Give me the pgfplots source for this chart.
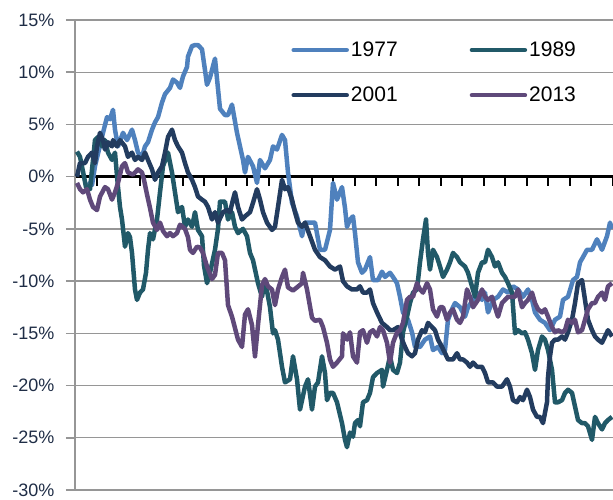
\documentclass[border=0pt]{standalone}
\usepackage{pgfplots}
\pgfplotsset{compat=1.18}
\usepackage{fontspec}
\setmainfont{Liberation Sans}
\definecolor{c77}{RGB}{79,129,189}
\definecolor{c89}{RGB}{33,89,104}
\definecolor{c01}{RGB}{35,60,95}
\definecolor{c13}{RGB}{95,73,122}
\definecolor{gridc}{RGB}{150,150,150}
\definecolor{tickc}{RGB}{31,45,70}
\begin{document}
\begin{tikzpicture}
\useasboundingbox (-75pt,-9pt) rectangle (538pt,490pt);
\begin{axis}[
  at={(0pt,0pt)}, anchor=south west,
  scale only axis, width=538pt, height=470pt,
  xmin=0, xmax=538, ymin=-30, ymax=15,
  axis x line=middle, axis y line=left,
  x axis line style={-, black, line width=2.6pt},
  y axis line style={-, gridc, line width=1.8pt},
  xtick={0,21.52,...,538}, xticklabels={},
  xtick align=outside,
  xtick style={black, line width=2pt},
  major tick length=9pt,
  ytick={-30,-25,...,15},
  ytick style={gridc, line width=1.5pt},
  ytick align=outside,
  ymajorgrids, grid style={gridc, line width=1.4pt},
  yticklabel={\pgfmathprintnumber{\tick}\%},
  /pgf/number format/assume math mode=true,
  yticklabel style={font=\fontsize{18}{18}\selectfont, text=tickc, anchor=east, xshift=-8pt},
  legend columns=2,
  legend style={draw=none, fill=none, at={(rel axis cs:0.402,0.958)}, anchor=north west,
    font=\fontsize{21}{21}\selectfont, row sep=25pt, inner sep=0pt,
    /tikz/every even column/.append style={column sep=70pt}},
  legend cell align=left,
  legend image code/.code={\draw[#1, line width=4.5pt, line cap=round] (0pt,0pt) -- (53pt,0pt);},
  every axis plot/.append style={line width=4.5pt, line join=round},
  clip=true,
]
\addplot[c77] table {
13 -0.5
17 -0.8
20 1.0
28 4.2
32 5.7
35 5.5
38 6.4
40 4.5
43 2.9
48 4.2
52 3.5
57 4.5
60 3.5
63 2.3
67 1.9
70 2.9
73 3.3
77 4.5
80 5.2
83 5.7
87 7.1
90 7.9
95 8.5
98 9.3
102 9.0
105 8.5
108 9.6
112 10.5
113 11.5
117 12.5
120 12.6
123 12.6
127 12.2
130 10.2
132 8.8
135 9.5
140 11.3
145 6.5
150 5.9
153 5.9
157 6.9
162 4.2
165 2.9
168 1.6
170 0.4
173 1.9
178 1.0
182 -0.6
185 1.6
190 0.8
195 1.6
198 2.9
202 2.6
207 4.0
210 3.5
213 0.4
217 -2.5
222 -3.8
227 -5.7
230 -4.4
240 -4.4
245 -7.0
250 -7.0
255 -5.1
258 -0.6
262 -2.2
267 -1.0
270 -3.0
272 -4.8
275 -4.1
278 -3.8
280 -5.4
283 -8.2
287 -9.2
290 -8.9
295 -7.7
298 -9.9
303 -9.9
307 -9.1
310 -9.6
315 -9.2
318 -9.6
322 -10.2
325 -11.5
328 -13.0
333 -13.7
337 -14.9
340 -16.3
345 -16.3
350 -15.6
355 -15.3
358 -16.6
363 -16.3
367 -16.9
370 -16.6
373 -13.7
377 -12.7
380 -12.1
385 -12.5
390 -13.4
393 -12.5
398 -11.8
402 -11.1
407 -11.8
410 -11.1
413 -13.0
418 -11.8
423 -11.5
428 -10.8
433 -11.1
438 -10.5
443 -10.8
448 -11.5
453 -10.8
457 -11.8
460 -13.0
465 -13.7
470 -14.0
475 -14.7
480 -13.7
485 -13.4
488 -11.8
493 -11.5
498 -9.9
502 -9.6
505 -8.2
508 -7.7
512 -7.0
517 -7.0
522 -6.0
527 -7.0
532 -5.7
535 -4.4
537 -5.0
};
\addlegendentry{1977}
\addplot[c89] table {
2 2.4
5 1.9
8 0.5
11 -1.0
15 -1.2
18 1.6
20 3.5
23 3.8
27 2.9
30 3.5
33 2.3
37 1.6
40 2.3
43 -1.0
45 -2.9
47 -4.1
50 -6.7
53 -5.4
55 -5.8
57 -7.3
60 -10.8
62 -11.8
65 -11.1
68 -10.8
71 -9.2
73 -7.0
75 -5.4
78 -6.0
82 -4.1
85 -1.5
88 1.0
93 2.3
97 0.4
100 -1.5
103 -3.4
107 -2.9
110 -4.8
113 -4.1
117 -4.8
120 -3.4
123 -5.1
127 -5.7
129 -8.5
132 -10.2
135 -9.2
140 -7.0
143 -5.0
145 -2.4
150 -2.4
153 -4.1
157 -3.4
160 -4.8
163 -5.4
168 -5.0
172 -5.7
175 -7.3
178 -8.0
183 -10.2
187 -11.5
190 -9.9
195 -12.5
198 -15.0
200 -14.7
203 -15.6
207 -18.2
210 -19.7
215 -19.4
218 -17.2
222 -19.4
225 -22.3
230 -20.1
233 -19.4
237 -22.3
240 -20.1
243 -19.7
247 -17.2
250 -18.8
252 -21.4
255 -20.7
258 -20.7
262 -21.6
267 -23.6
270 -25.2
272 -25.9
275 -24.5
278 -24.9
280 -23.6
283 -23.3
285 -23.9
288 -21.6
292 -21.4
295 -20.7
298 -19.2
302 -18.8
307 -18.5
308 -20.1
312 -18.5
315 -17.2
318 -18.5
322 -18.8
325 -17.8
327 -15.9
328 -14.9
332 -13.4
335 -12.1
338 -11.1
342 -10.8
345 -8.2
348 -6.0
351 -4.1
353 -7.3
355 -8.9
358 -7.0
362 -7.7
365 -8.6
368 -9.6
372 -8.9
375 -8.2
378 -7.3
382 -7.7
385 -8.2
390 -8.6
393 -9.2
397 -10.5
400 -11.5
403 -9.2
407 -8.2
410 -8.2
413 -7.0
417 -7.7
420 -8.6
423 -8.2
427 -9.2
430 -9.6
433 -10.2
437 -11.1
440 -15.0
443 -14.7
447 -15.0
450 -14.9
453 -15.6
457 -16.9
460 -18.5
463 -16.6
467 -15.3
470 -15.6
473 -16.6
477 -18.5
480 -21.6
483 -21.6
487 -21.4
490 -20.7
493 -20.4
497 -20.7
500 -22.0
503 -23.3
507 -23.6
510 -23.6
513 -23.9
517 -25.2
520 -23.0
523 -23.6
527 -24.2
530 -23.6
533 -23.3
537 -23.0
};
\addlegendentry{1989}
\addplot[c01] table {
2 0.0
5 1.3
10 1.3
13 1.9
17 2.3
20 1.3
22 2.9
25 4.2
28 3.5
30 2.6
33 3.3
37 2.9
38 3.5
42 2.9
45 3.5
50 2.9
53 1.9
57 2.3
60 1.6
63 1.9
67 1.6
70 2.3
73 1.6
77 0.7
80 -0.3
83 0.4
87 1.0
90 2.3
93 3.8
97 4.5
100 3.5
103 2.9
107 2.3
110 1.3
113 0.4
117 -0.3
120 -1.0
123 -1.9
127 -2.2
130 -2.4
133 -2.9
137 -4.1
140 -3.4
143 -4.4
148 -3.4
152 -3.2
155 -3.4
158 -2.2
160 -1.5
163 -2.9
167 -4.1
170 -3.8
175 -3.4
178 -2.5
182 -1.2
185 -2.2
188 -3.4
192 -4.4
197 -5.1
200 -4.8
203 -2.9
207 -0.3
210 -1.2
213 -1.0
217 -2.2
220 -3.4
223 -4.4
227 -4.8
230 -4.4
235 -5.7
240 -7.0
245 -7.7
250 -8.0
255 -8.6
260 -8.9
265 -8.6
268 -10.0
272 -10.5
277 -10.8
282 -10.8
285 -10.5
288 -11.1
292 -11.1
295 -10.8
298 -12.1
302 -13.0
307 -14.0
312 -14.4
315 -14.7
318 -14.7
323 -14.4
327 -15.6
330 -16.3
333 -16.9
337 -17.2
340 -16.9
343 -15.6
347 -14.7
350 -14.9
353 -14.0
357 -14.4
360 -14.7
363 -15.6
367 -16.3
370 -16.9
373 -17.5
378 -17.5
382 -16.9
385 -17.5
388 -17.5
392 -17.8
395 -18.2
398 -17.8
402 -18.2
407 -18.2
410 -18.8
413 -19.7
418 -19.7
422 -20.1
427 -20.1
432 -19.4
435 -20.1
438 -21.4
442 -21.6
445 -21.1
448 -21.4
452 -20.4
455 -21.1
458 -22.3
462 -23.0
465 -23.0
468 -23.6
472 -21.6
473 -19.2
475 -17.2
477 -15.9
480 -15.6
483 -15.6
487 -15.3
490 -15.6
493 -14.9
497 -13.7
500 -12.1
503 -10.2
507 -9.9
510 -11.8
513 -13.7
517 -14.7
520 -15.3
523 -15.6
527 -15.9
530 -15.3
533 -14.7
537 -15.3
};
\addlegendentry{2001}
\addplot[c13] table {
2 -0.6
5 -1.2
8 -1.5
12 -1.2
15 -2.2
18 -2.9
22 -3.2
25 -1.9
30 -1.0
33 -1.2
37 -2.2
40 -1.5
43 -0.6
47 1.0
50 1.3
53 0.4
58 0.2
63 0.7
67 0.4
69 -0.3
72 -1.7
75 -3.0
78 -4.4
82 -5.1
85 -4.4
88 -5.2
92 -5.7
95 -5.4
98 -5.7
102 -5.4
105 -4.6
110 -5.0
113 -5.8
115 -7.0
118 -7.3
122 -6.7
125 -6.8
128 -7.3
132 -8.6
137 -9.8
140 -9.4
143 -7.3
147 -7.3
150 -8.0
153 -12.3
157 -13.4
160 -14.5
163 -15.6
167 -16.3
170 -13.2
173 -12.7
177 -14.2
180 -17.2
183 -14.2
187 -10.4
190 -9.8
193 -10.5
197 -10.8
200 -12.3
203 -10.8
207 -9.6
210 -8.9
213 -10.6
218 -10.9
222 -10.6
227 -10.2
228 -9.2
232 -10.8
237 -13.5
240 -13.8
245 -13.7
248 -14.4
252 -15.9
255 -17.5
258 -18.2
262 -17.8
267 -17.2
268 -15.0
272 -15.6
275 -14.9
278 -17.2
282 -17.8
285 -14.9
288 -14.7
292 -15.9
295 -14.9
298 -14.7
302 -15.3
305 -14.4
308 -14.7
312 -15.9
315 -17.8
318 -15.9
322 -14.9
325 -14.7
328 -14.0
332 -11.8
335 -11.5
338 -11.5
342 -10.2
345 -10.8
348 -11.1
352 -10.2
355 -10.8
358 -12.7
362 -13.4
365 -12.5
368 -12.5
372 -13.7
375 -13.0
378 -12.7
382 -13.7
385 -14.0
388 -13.4
392 -10.8
395 -11.5
398 -12.5
403 -11.8
407 -10.8
410 -11.5
413 -11.8
417 -11.5
420 -12.5
423 -13.4
427 -12.1
430 -11.8
433 -11.5
437 -11.5
440 -11.5
443 -10.8
447 -12.5
450 -12.1
453 -11.8
457 -11.1
460 -12.1
463 -12.7
467 -13.0
470 -12.7
473 -13.4
477 -14.4
480 -14.9
483 -14.7
487 -14.9
490 -14.7
493 -13.7
497 -14.0
500 -13.7
503 -14.9
507 -14.7
510 -13.7
513 -12.7
517 -12.1
520 -12.1
523 -11.5
527 -11.1
530 -11.8
533 -10.5
537 -10.2
};
\addlegendentry{2013}
\end{axis}
\end{tikzpicture}
\end{document}
